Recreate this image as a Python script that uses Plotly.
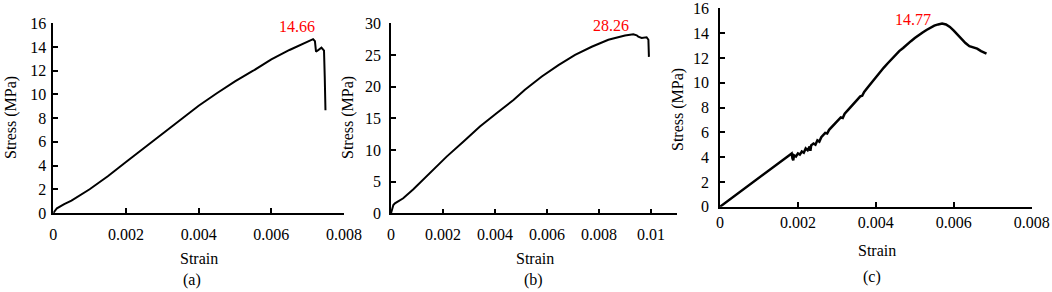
import plotly.graph_objects as go

# ── Data ─────────────────────────────────────────────────────────────────────
strain_a = [0, 0.0001, 0.0003, 0.0005, 0.001, 0.0015, 0.002, 0.0025, 0.003,
            0.0035, 0.004, 0.0045, 0.005, 0.0055, 0.006, 0.0065, 0.007,
            0.00715, 0.0072, 0.00723, 0.00738, 0.00745, 0.00747, 0.00749]
stress_a = [0, 0.4, 0.75, 1.05, 2.0, 3.1, 4.3, 5.5, 6.7,
            7.9, 9.05, 10.1, 11.1, 12.0, 12.95, 13.75, 14.45,
            14.66, 14.5, 13.6, 13.95, 13.7, 11.5, 8.67]

strain_b = [0, 0.00009, 0.00015, 0.00047, 0.00086, 0.0015, 0.00214, 0.00278, 0.00342,
            0.00406, 0.00471, 0.00515, 0.0058, 0.00644, 0.00708, 0.00772, 0.00836,
            0.009, 0.00932, 0.00945, 0.00951, 0.00964, 0.00983, 0.0099, 0.00992]
stress_b = [0, 1.3, 1.58, 2.37, 3.79, 6.42, 8.95, 11.3, 13.7,
            15.8, 17.9, 19.5, 21.6, 23.4, 25.0, 26.3, 27.4,
            28.06, 28.26, 28.1, 27.9, 27.7, 27.8, 27.4, 24.7]

strain_c = [0, 0.0003, 0.0006, 0.001, 0.0014, 0.0018, 0.00184, 0.00186, 0.00188,
            0.0019, 0.00195, 0.002, 0.00205, 0.0021, 0.00215, 0.0022, 0.00225,
            0.0023, 0.00232, 0.00234, 0.0024, 0.00245, 0.0025, 0.00255, 0.0026,
            0.0027, 0.00275, 0.0028, 0.0029, 0.003, 0.0031, 0.00315, 0.0032,
            0.0033, 0.0034, 0.0035, 0.0036, 0.00365, 0.0037, 0.0038, 0.0039,
            0.004, 0.0041, 0.0042, 0.0043, 0.0044, 0.0045, 0.0046, 0.0047,
            0.0048, 0.0049, 0.005, 0.0051, 0.0052, 0.0053, 0.0054, 0.0055,
            0.0056, 0.0057, 0.0058, 0.0059, 0.006, 0.0061, 0.0062, 0.0063,
            0.0064, 0.0065, 0.0066, 0.0067, 0.00684]
stress_c = [0, 0.7, 1.4, 2.35, 3.25, 4.15, 4.3, 3.9, 3.75,
            4.15, 4.05, 4.3, 4.2, 4.45, 4.35, 4.7, 4.55,
            4.85, 4.5, 4.95, 5.1, 5.0, 5.35, 5.25, 5.6,
            5.95, 5.9, 6.2, 6.55, 6.85, 7.2, 7.15, 7.5,
            7.85, 8.2, 8.55, 8.9, 8.95, 9.25, 9.65, 10.05,
            10.45, 10.85, 11.2, 11.55, 11.9, 12.25, 12.55, 12.8,
            13.1, 13.35, 13.6, 13.85, 14.05, 14.25, 14.45, 14.6,
            14.7, 14.77, 14.7, 14.5, 14.2, 13.85, 13.5, 13.2,
            12.95, 12.85, 12.75, 12.55, 12.35]

peaks = ["14.66", "28.26", "14.77"]
panel_tags = ["(a)", "(b)", "(c)"]

xt_a = [0, 0.002, 0.004, 0.006, 0.008]
xt_b = [0, 0.002, 0.004, 0.006, 0.008, 0.01]
xtxt_a = ["0", "0.002", "0.004", "0.006", "0.008"]
xtxt_b = ["0", "0.002", "0.004", "0.006", "0.008", "0.01"]
yt_16 = [0, 2, 4, 6, 8, 10, 12, 14, 16]
yt_30 = [0, 5, 10, 15, 20, 25, 30]

# ── Layout helpers ────────────────────────────────────────────────────────────
W, H = 1052, 292
FONT = "'Liberation Serif', 'Times New Roman', Tinos, 'DejaVu Serif', serif"


def px(x):
    return x / W


def py(y):
    return 1 - y / H


def _xaxis(dom, rng, vals, txt, standoff):
    return dict(domain=dom, range=rng, tickvals=vals, ticktext=txt, automargin=False,
                showline=True, linecolor="black", linewidth=1.5,
                ticks="inside", ticklen=5, tickwidth=1.5, tickcolor="black",
                showgrid=False, zeroline=False, ticklabelstandoff=standoff,
                ticklabeloverflow="allow",
                tickfont=dict(family=FONT, size=16, color="black"))


def _yaxis(dom, rng, vals, standoff, anchor):
    return dict(domain=dom, range=rng, tickvals=vals, anchor=anchor, automargin=False,
                showline=True, linecolor="black", linewidth=1.5,
                ticks="inside", ticklen=5, tickwidth=1.5, tickcolor="black",
                showgrid=False, zeroline=False, ticklabelstandoff=standoff,
                ticklabeloverflow="allow",
                tickfont=dict(family=FONT, size=16, color="black"))


fig = go.Figure()
fig.add_trace(go.Scatter(x=strain_a, y=stress_a, mode="lines", xaxis="x", yaxis="y",
                         line=dict(color="black", width=2)))
fig.add_trace(go.Scatter(x=strain_b, y=stress_b, mode="lines", xaxis="x2", yaxis="y2",
                         line=dict(color="black", width=2)))
fig.add_trace(go.Scatter(x=strain_c, y=stress_c, mode="lines", xaxis="x3", yaxis="y3",
                         line=dict(color="black", width=2.5)))

fig.update_layout(
    width=W, height=H, margin=dict(l=0, r=0, t=0, b=0),
    paper_bgcolor="white", plot_bgcolor="white", showlegend=False,
    font=dict(family=FONT, size=16, color="black"),
    xaxis=_xaxis([px(53.3), px(344)], [0, 0.008], xt_a, xtxt_a, 6),
    yaxis=_yaxis([py(213), py(23.3)], [0, 16], yt_16, 2, "x"),
    xaxis2=_xaxis([px(391), px(677)], [0, 0.011], xt_b, xtxt_b, 6),
    yaxis2=_yaxis([py(213.3), py(23.3)], [0, 30], yt_30, 5, "x2"),
    xaxis3=_xaxis([px(720), px(1031.7)], [0, 0.008], xt_a, xtxt_a, 0),
    yaxis3=_yaxis([py(206.7), py(8.3)], [0, 16], yt_16, 6, "x3"),
)
fig.update_layout(xaxis2_anchor="y2", xaxis3_anchor="y3")

# axis titles and panel tags
titles = [
    (11, 118, "Stress (MPa)", -90), (348, 118, "Stress (MPa)", -90),
    (678, 110, "Stress (MPa)", -90),
    (199, 258, "Strain", 0), (535, 258, "Strain", 0), (877, 250, "Strain", 0),
    (192, 280, panel_tags[0], 0), (533, 280, panel_tags[1], 0), (872, 277, panel_tags[2], 0),
]
for x, y, t, ang in titles:
    fig.add_annotation(x=px(x), y=py(y), xref="paper", yref="paper", text=t,
                       textangle=ang, showarrow=False, xanchor="center", yanchor="middle",
                       font=dict(family=FONT, size=16, color="black"))

# peak values (red)
for (xr, yr, x, y), t in zip([("x", "y", 0.0067, 15.7), ("x2", "y2", 0.00846, 29.7),
                              ("x3", "y3", 0.00496, 15.1)], peaks):
    fig.add_annotation(x=x, y=y, xref=xr, yref=yr, text=t, showarrow=False,
                       xanchor="center", yanchor="middle",
                       font=dict(family=FONT, size=16, color="#FF0000"))

# page has a default 8px body margin; drop it so the figure fills the window
fig.write_html("out.html", config={"displayModeBar": False},
               post_script="document.body.style.margin='0';")
